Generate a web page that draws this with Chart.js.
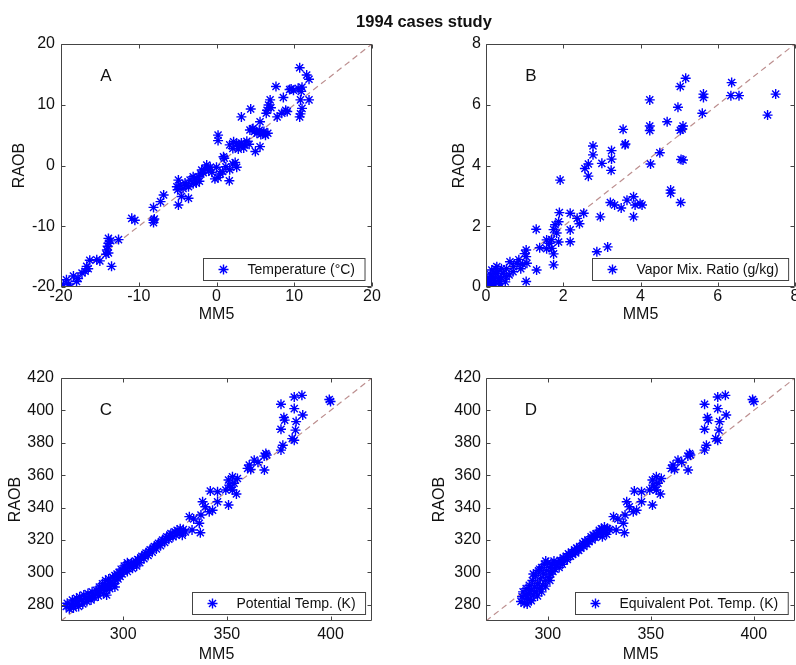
<!DOCTYPE html>
<html lang="en">
<head>
<meta charset="UTF-8">
<title>1994 cases study</title>
<script src="https://cdn.jsdelivr.net/npm/chart.js"></script>
<style>
  body { margin: 0; background: #fff; }
  #page { position: relative; width: 796px; height: 665px; overflow: hidden;
          font-family: Arial, "Liberation Sans", Helvetica, sans-serif; }
  #title { position: absolute; left: 324px; width: 200px; top: 12px; text-align: center;
           font-weight: bold; font-size: 16.5px; color: #111; z-index: 2; }
  canvas { position: absolute; }
</style>
</head>
<body>
<div id="page">
  <div id="title">1994 cases study</div>
</div>

<script>
// ---- data ----
const aMM5 = [-19.7,-19.3,-18.8,-18.4,-18.0,-17.8,-17.3,-16.9,-16.7,-16.5,-16.3,-15.4,-15.0,-19.0,
  -13.9,-13.9,-14.1,-13.9,-13.6,-14.2,-12.6,-13.5,-10.9,-10.5,-8.1,-8.1,-8.0,-8.1,-7.2,-6.8,
  -5.1,-4.9,-4.7,-4.5,-4.9,-4.05,-3.6,-3.6,-3.4,-3.0,-2.6,-2.35,-1.9,-1.26,-5.0,-4.3,-3.0,-2.2,
  -2.0,-1.5,-0.8,-0.6,-0.2,0.0,0.5,0.2,0.8,1.7,1.65,2.1,2.6,2.4,1.0,0.9,0.2,0.2,
  1.7,2.6,3.2,2.1,2.8,3.6,3.9,2.2,3.5,4.2,5.0,5.6,4.3,5.2,6.1,4.7,5.7,6.3,4.9,5.5,6.6,
  4.4,3.2,5.6,6.9,6.7,6.5,7.0,6.4,7.65,8.6,9.4,9.9,10.5,10.8,11.0,10.7,10.8,11.9,8.9,8.4,9.1,7.8,
  10.7,11.6,11.9,11.0,-2.8,-1.0,1.2,3.0,-14.0,-3.9,-1.7,2.9,4.6,6.0,9.6,10.9];
const aRAOB = [-19.6,-18.8,-20.0,-18.2,-19.1,-18.6,-17.7,-17.4,-16.6,-17.0,-15.6,-15.5,-15.7,-19.5,
  -12.0,-12.8,-13.9,-14.4,-12.4,-14.6,-12.2,-16.6,-8.7,-9.0,-9.0,-9.4,-8.8,-6.9,-5.95,-4.85,
  -3.5,-2.4,-3.2,-5.1,-6.5,-2.9,-3.5,-5.4,-2.4,-1.84,-2.9,-1.84,-0.74,0.08,-4.0,-3.8,-3.0,-2.6,
  -1.4,-0.5,-0.3,-1.1,-2.2,-0.3,-1.4,-2.0,-1.0,-0.7,-2.5,0.25,-0.3,0.5,1.2,1.45,5.0,4.1,
  3.4,3.6,3.7,2.8,2.7,3.4,4.0,3.9,2.9,3.5,2.3,3.1,5.84,5.3,5.6,6.1,5.1,5.0,5.6,5.8,5.3,
  9.3,8.0,7.2,10.8,9.95,9.1,9.5,8.6,13.0,11.2,12.5,12.4,12.7,10.8,9.4,8.0,8.5,10.8,9.1,8.6,8.9,8.0,
  16.1,14.9,14.2,12.9,-2.2,-0.9,-0.2,3.2,-13.3,-3.3,-1.2,3.3,6.0,5.3,12.6,12.2];

const bMM5 = [5.17,5.03,6.36,6.34,6.55,5.63,5.63,7.5,7.29,5.6,4.24,4.97,4.69,5.1,5.08,5.03,4.24,4.24,
  3.55,4.5,3.61,3.6,4.26,5.1,5.05,2.77,2.77,3.25,3.25,3.24,3.0,2.65,2.56,2.65,1.92,4.78,4.78,5.04,
  3.22,3.33,3.5,3.65,3.82,3.86,3.99,4.04,3.82,2.96,2.53,2.36,2.42,2.18,2.18,2.18,1.9,1.88,1.79,
  1.75,1.83,1.7,1.88,1.75,1.75,1.64,1.57,1.7,1.3,1.39,1.57,2.87,3.15,1.31,1.04,1.04,1.06,1.04,
  0.8,0.71,0.62,0.53,0.28,0.24,0.15,0.32,0.11,0.07,0.03,0.16,0.24,0.37,0.5,0.53,
  0.05,0.1,0.02,0.2,0.12,0.3,0.4,0.45,0.6,0.7,0.9,0.2,0.08,0.35,0.25,0.15,0.0,0.05,0.4,0.85,0.95,1.0];
const bRAOB = [6.87,6.6,6.73,6.3,6.3,6.35,6.24,6.35,5.66,5.72,6.16,5.92,5.44,5.3,5.2,5.16,5.3,5.15,
  5.19,4.42,4.71,4.68,4.05,4.18,4.2,4.64,4.35,4.49,4.21,3.84,4.07,4.05,3.9,3.65,3.52,3.19,3.09,2.78,
  2.78,2.7,2.6,2.86,2.97,2.7,2.75,2.7,2.31,2.31,2.43,2.26,2.08,2.43,1.88,1.49,2.45,2.15,2.05,
  1.89,1.78,1.56,1.48,1.09,0.73,1.44,1.55,1.27,1.9,1.29,1.26,1.16,1.32,0.56,1.22,1.0,0.78,0.18,
  0.78,0.67,0.83,0.6,0.67,0.45,0.56,0.29,0.22,0.06,0.01,0.34,0.17,0.11,0.17,0.34,
  0.1,0.05,0.2,0.1,0.4,0.5,0.3,0.45,0.4,0.5,0.6,0.3,0.15,0.2,0.6,0.05,0.0,0.3,0.6,0.9,0.75,1.1];

// points above ~325 K, common to panels C and D
const highMM5 = [399.4,400,376.1,382.5,386.2,382.5,377.5,377.9,386.6,383.4,376.1,383.1,381.5,382.5,
  377,376.1,368.8,368,369.2,363.2,360,360.8,361.5,368.1,352.7,350.8,351.1,352.7,349.5,355.1,354.6,
  352,353.5,350.8,342,345.5,338.3,339.6,341.5,343.1,337.5,336.7,337.2,345.5,331.9,333.2,365,334];
const highRAOB = [406.7,405.5,403.8,408.3,409.3,401.1,395.6,394,397.2,393.1,388.4,387.8,382.6,381.6,
  378.5,375.5,373.4,371.8,372.5,369.3,364.2,366.3,363.5,363.2,359,357,353.9,350.9,350.9,358,348.4,
  352.5,355,341.6,350.2,349.8,343.6,340.5,337.4,338.4,335.4,330.3,324.5,343.6,334.4,326.2,368,333];

const cMM5 = [272.5,273,274,275,275.5,276,277,277.5,278,278.5,279,280,280.5,281,282,282.5,283,284,
  284.5,285,285.5,286,287,287.5,288,288.5,289,289.5,290,290.5,291,291.5,292,292.5,293,293.5,294,
  294.5,295,295.5,296,296.5,297,297.5,298,298.5,299,299.5,300,300.5,301,302,302.5,303,304,304.5,
  305,306,306.5,307,308,308.5,309,310,310.5,311,312,312.5,313,314,314.5,315,316,316.5,317,318,
  318.5,319,320,320.5,321,322,322.5,323,324,325,325.5,326,327,327.5,328,329,330,328.5,302,296,292];
const cRAOB = [279,281,277.5,280,283,278,280,284,282,279,285,283,280.5,286,284,282,287,285,
  283,288,286,284.5,289,287,285.5,291,288,290,293,287,291,295,289,292,296,290,294,
  292,297,293,291,295,299,296,300,297.5,302,299,301,304,302,300.5,305,303,306,302.5,
  305,307,304,308,306,309,310,308.5,311,312,310.5,313,314,312.5,315,316,314.5,317,318,316.5,
  319,320,318.5,321,322,320.5,323,324,322,325,323,326,324.5,327,325,326.5,325,323,306,298,286];

const dMM5 = [287,287.5,288,288.5,289,289.5,290,290.5,291,291.5,292,292.5,293,293.5,294,294.5,295,
  295.5,296,296.5,297,297.5,298,298.5,299,299.5,300,300.5,301,301.5,302,302.5,303,303.5,304,305,
  305.5,306,307,307.5,308,309,309.5,310,311,311.5,312,313,313.5,314,315,315.5,316,317,317.5,318,
  319,319.5,320,321,321.5,322,323,323.5,324,325,325.5,326,327,327.5,328,329,330,328.5,326.5,
  290,292,295,297,299,301,293,296,299];
const dRAOB = [282,285,288,281,286,290,284,287,292,283.5,289,295,286,291,298,288,293,
  301,290,296,303,292,299,305,295,301,306,297,303,299,305,300.5,307,302,304.5,306,
  303,307.5,305,309,307,310,308,311.5,310,312.5,311,314,312,315,313.5,316,315,318,316,319,
  317.5,320,319,322,320,323,321.5,324,323,326,324,327,325,328,326,327,326.5,323.5,322,
  280.5,282.5,285.5,288,291.5,295,299,302,307];

const tempTicks = [-20, -10, 0, 10, 20];
const mixTicks = [0, 2, 4, 6, 8];
const kelvinXTicks = [300, 350, 400];
const kelvinYTicks = [280, 300, 320, 340, 360, 380, 400, 420];

// ---- drawing ----
const FONT = 'Arial, "Liberation Sans", Helvetica, sans-serif';
const LH = 16 * 1.2;

const boxPlugin = {
  id: 'boxPlugin',
  afterDatasetsDraw(chart, args, opts) {
    const ctx = chart.ctx, ca = chart.chartArea;
    const sx = chart.scales.x, sy = chart.scales.y;
    ctx.save();
    ctx.strokeStyle = '#444';
    ctx.lineWidth = 1;
    ctx.beginPath();
    const L = Math.round(ca.left) + 0.5, R = Math.round(ca.right) - 0.5;
    const T = Math.round(ca.top) + 0.5, B = Math.round(ca.bottom) - 0.5;
    ctx.rect(L, T, R - L, B - T);
    const tl = 4;
    sx.ticks.forEach(t => {
      const p = Math.round(sx.getPixelForValue(t.value)) + 0.5;
      ctx.moveTo(p, B); ctx.lineTo(p, B - tl);
      ctx.moveTo(p, T); ctx.lineTo(p, T + tl);
    });
    sy.ticks.forEach(t => {
      const p = Math.round(sy.getPixelForValue(t.value)) + 0.5;
      ctx.moveTo(L, p); ctx.lineTo(L + tl, p);
      ctx.moveTo(R, p); ctx.lineTo(R - tl, p);
    });
    ctx.stroke();

    // panel letter
    ctx.fillStyle = '#111';
    ctx.font = '17px ' + FONT;
    ctx.textAlign = 'center';
    ctx.textBaseline = 'middle';
    ctx.fillText(opts.letter, ca.left + 45, ca.top + 32);

    // legend box
    const label = chart.data.datasets[0].label;
    ctx.font = '14px ' + FONT;
    const tw = ctx.measureText(label).width;
    const bw = 44 + tw + 10, bh = 22;
    const bx = Math.round(ca.right - 7 - bw) + 0.5, by = Math.round(ca.bottom - 7 - bh) + 0.5;
    ctx.fillStyle = '#fff';
    ctx.fillRect(bx, by, bw, bh);
    ctx.strokeStyle = '#444';
    ctx.strokeRect(bx, by, bw, bh);
    const mx = bx + 20, my = by + bh / 2, r = 5;
    ctx.strokeStyle = '#0000ff';
    ctx.lineWidth = 1.4;
    ctx.beginPath();
    for (let k = 0; k < 4; k++) {
      const a = k * Math.PI / 4;
      ctx.moveTo(mx - r * Math.cos(a), my - r * Math.sin(a));
      ctx.lineTo(mx + r * Math.cos(a), my + r * Math.sin(a));
    }
    ctx.stroke();
    ctx.fillStyle = '#111';
    ctx.textAlign = 'left';
    ctx.fillText(label, bx + 44, my + 0.5);
    ctx.restore();
  }
};

function makePanel(p) {
  const cv = document.createElement('canvas');
  cv.width = p.canvas.w; cv.height = p.canvas.h;
  cv.style.left = p.canvas.left + 'px';
  cv.style.top = p.canvas.top + 'px';
  document.getElementById('page').appendChild(cv);

  const yW = p.area.l - p.canvas.left;
  const padRight = p.canvas.left + p.canvas.w - p.area.r;
  const padTop = p.area.t - p.canvas.top;
  const xH = p.canvas.top + p.canvas.h - p.area.b;
  const yTitlePad = p.yTitleX - p.canvas.left - LH / 2;
  const xTitlePad = p.canvas.top + p.canvas.h - p.xTitleY - LH / 2;

  const pts = p.xs.map((v, i) => ({ x: v, y: p.ys[i] }));
  const tickFont = { size: 16, family: FONT, lineHeight: 1.2 };

  new Chart(cv, {
    type: 'scatter',
    data: {
      datasets: [
        { label: p.legend, data: pts, pointStyle: 'star', pointRadius: 5, pointHoverRadius: 5,
          borderColor: '#0000ff', backgroundColor: '#0000ff', borderWidth: 1.4, order: 1 },
        { label: '1:1', data: [{ x: p.min, y: p.min }, { x: p.max, y: p.max }], showLine: true,
          borderColor: '#bc8e8e', borderWidth: 1.2, borderDash: [6, 4], pointRadius: 0, order: 2 }
      ]
    },
    options: {
      responsive: false, animation: false, events: [],
      layout: { autoPadding: false, padding: { left: 0, top: padTop, right: padRight, bottom: 0 } },
      plugins: { legend: { display: false }, tooltip: { enabled: false }, boxPlugin: { letter: p.letter } },
      scales: {
        x: {
          type: 'linear', position: 'bottom', min: p.min, max: p.max,
          grid: { display: false, drawTicks: false }, border: { display: false },
          ticks: { autoSkip: false, maxRotation: 0, padding: p.xTickPad, color: '#111', font: tickFont },
          afterBuildTicks: s => { s.ticks = p.xTicks.map(v => ({ value: v })); },
          afterFit: s => { s.height = xH; s.paddingLeft = 0; s.paddingRight = 0; },
          title: { display: true, text: 'MM5', color: '#111', font: tickFont, padding: { top: 0, bottom: xTitlePad } }
        },
        y: {
          type: 'linear', position: 'left', min: p.min, max: p.max,
          grid: { display: false, drawTicks: false }, border: { display: false },
          ticks: { autoSkip: false, padding: p.yTickPad, color: '#111', font: tickFont },
          afterBuildTicks: s => { s.ticks = p.yTicks.map(v => ({ value: v })); },
          afterFit: s => { s.width = yW; s.paddingTop = 0; s.paddingBottom = 0; },
          title: { display: true, text: 'RAOB', color: '#111', font: tickFont, padding: { top: yTitlePad, bottom: 0 } }
        }
      }
    },
    plugins: [boxPlugin]
  });
}

makePanel({ letter: 'A', legend: 'Temperature (°C)', xs: aMM5, ys: aRAOB, min: -20, max: 20,
  xTicks: tempTicks, yTicks: tempTicks,
  canvas: { left: 0, top: 0, w: 390, h: 330 }, area: { l: 61, r: 372, t: 44, b: 287 },
  yTitleX: 20, xTitleY: 315, xTickPad: 0, yTickPad: 6 });
makePanel({ letter: 'B', legend: 'Vapor Mix. Ratio (g/kg)', xs: bMM5, ys: bRAOB, min: 0, max: 8,
  xTicks: mixTicks, yTicks: mixTicks,
  canvas: { left: 420, top: 0, w: 376, h: 330 }, area: { l: 486, r: 795, t: 44, b: 287 },
  yTitleX: 460, xTitleY: 315, xTickPad: 0, yTickPad: 5 });
makePanel({ letter: 'C', legend: 'Potential Temp. (K)', xs: cMM5.concat(highMM5), ys: cRAOB.concat(highRAOB),
  min: 270, max: 420, xTicks: kelvinXTicks, yTicks: kelvinYTicks,
  canvas: { left: 0, top: 330, w: 390, h: 335 }, area: { l: 61, r: 372, t: 378, b: 621 },
  yTitleX: 15.5, xTitleY: 655, xTickPad: 4, yTickPad: 7 });
makePanel({ letter: 'D', legend: 'Equivalent Pot. Temp. (K)', xs: dMM5.concat(highMM5), ys: dRAOB.concat(highRAOB),
  min: 270, max: 420, xTicks: kelvinXTicks, yTicks: kelvinYTicks,
  canvas: { left: 420, top: 330, w: 376, h: 335 }, area: { l: 486, r: 795, t: 378, b: 621 },
  yTitleX: 440, xTitleY: 655, xTickPad: 4, yTickPad: 5 });
</script>
</body>
</html>
